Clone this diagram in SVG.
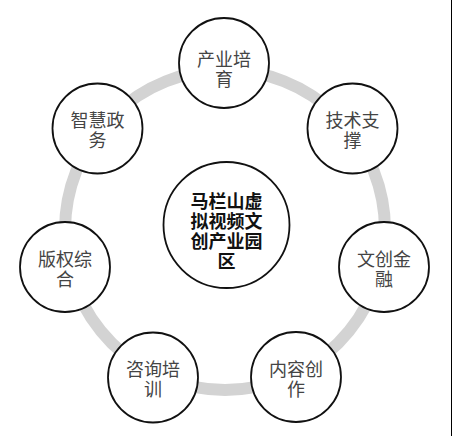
<svg xmlns="http://www.w3.org/2000/svg" width="452" height="436" viewBox="0 0 452 436">
<style>
.node{fill:#fff;stroke:#111;stroke-width:1.8}
.lbl{font-family:"Noto Sans CJK SC","Noto Sans",sans-serif;font-size:18px;fill:#444;text-anchor:middle;dominant-baseline:central}
.ctr{font-family:"Noto Sans CJK SC","Noto Sans",sans-serif;font-size:18px;font-weight:bold;fill:#111;text-anchor:middle;dominant-baseline:central}
</style>
<rect width="452" height="436" fill="#fff"/>
<rect x="451" y="0" width="1" height="436" fill="#000"/>
<g id="connectors">
<circle cx="225" cy="230" r="160" fill="none" stroke="#d3d3d3" stroke-width="12"/>
</g>
<g id="center">
<circle class="node" cx="226.5" cy="225" r="63"/>
<text class="ctr" x="226.5" y="200">马栏山虚<tspan x="226.5" dy="20">拟视频文</tspan><tspan x="226.5" dy="20">创产业园</tspan><tspan x="226.5" dy="20">区</tspan></text>
</g>
<g id="n1"><circle class="node" cx="224" cy="63" r="45"/><text class="lbl" x="224" y="58">产业培<tspan x="224" dy="20">育</tspan></text></g>
<g id="n2"><circle class="node" cx="352.5" cy="128.5" r="45"/><text class="lbl" x="352.5" y="119">技术支<tspan x="352.5" dy="20">撑</tspan></text></g>
<g id="n3"><circle class="node" cx="384" cy="267" r="45"/><text class="lbl" x="384" y="258">文创金<tspan x="384" dy="20">融</tspan></text></g>
<g id="n4"><circle class="node" cx="296" cy="377" r="45"/><text class="lbl" x="296" y="368">内容创<tspan x="296" dy="20">作</tspan></text></g>
<g id="n5"><circle class="node" cx="153" cy="377.5" r="45"/><text class="lbl" x="153" y="368">咨询培<tspan x="153" dy="20">训</tspan></text></g>
<g id="n6"><circle class="node" cx="65" cy="267" r="45"/><text class="lbl" x="65" y="258">版权综<tspan x="65" dy="20">合</tspan></text></g>
<g id="n7"><circle class="node" cx="97.5" cy="128.5" r="45"/><text class="lbl" x="97.5" y="119">智慧政<tspan x="97.5" dy="20">务</tspan></text></g>
</svg>
